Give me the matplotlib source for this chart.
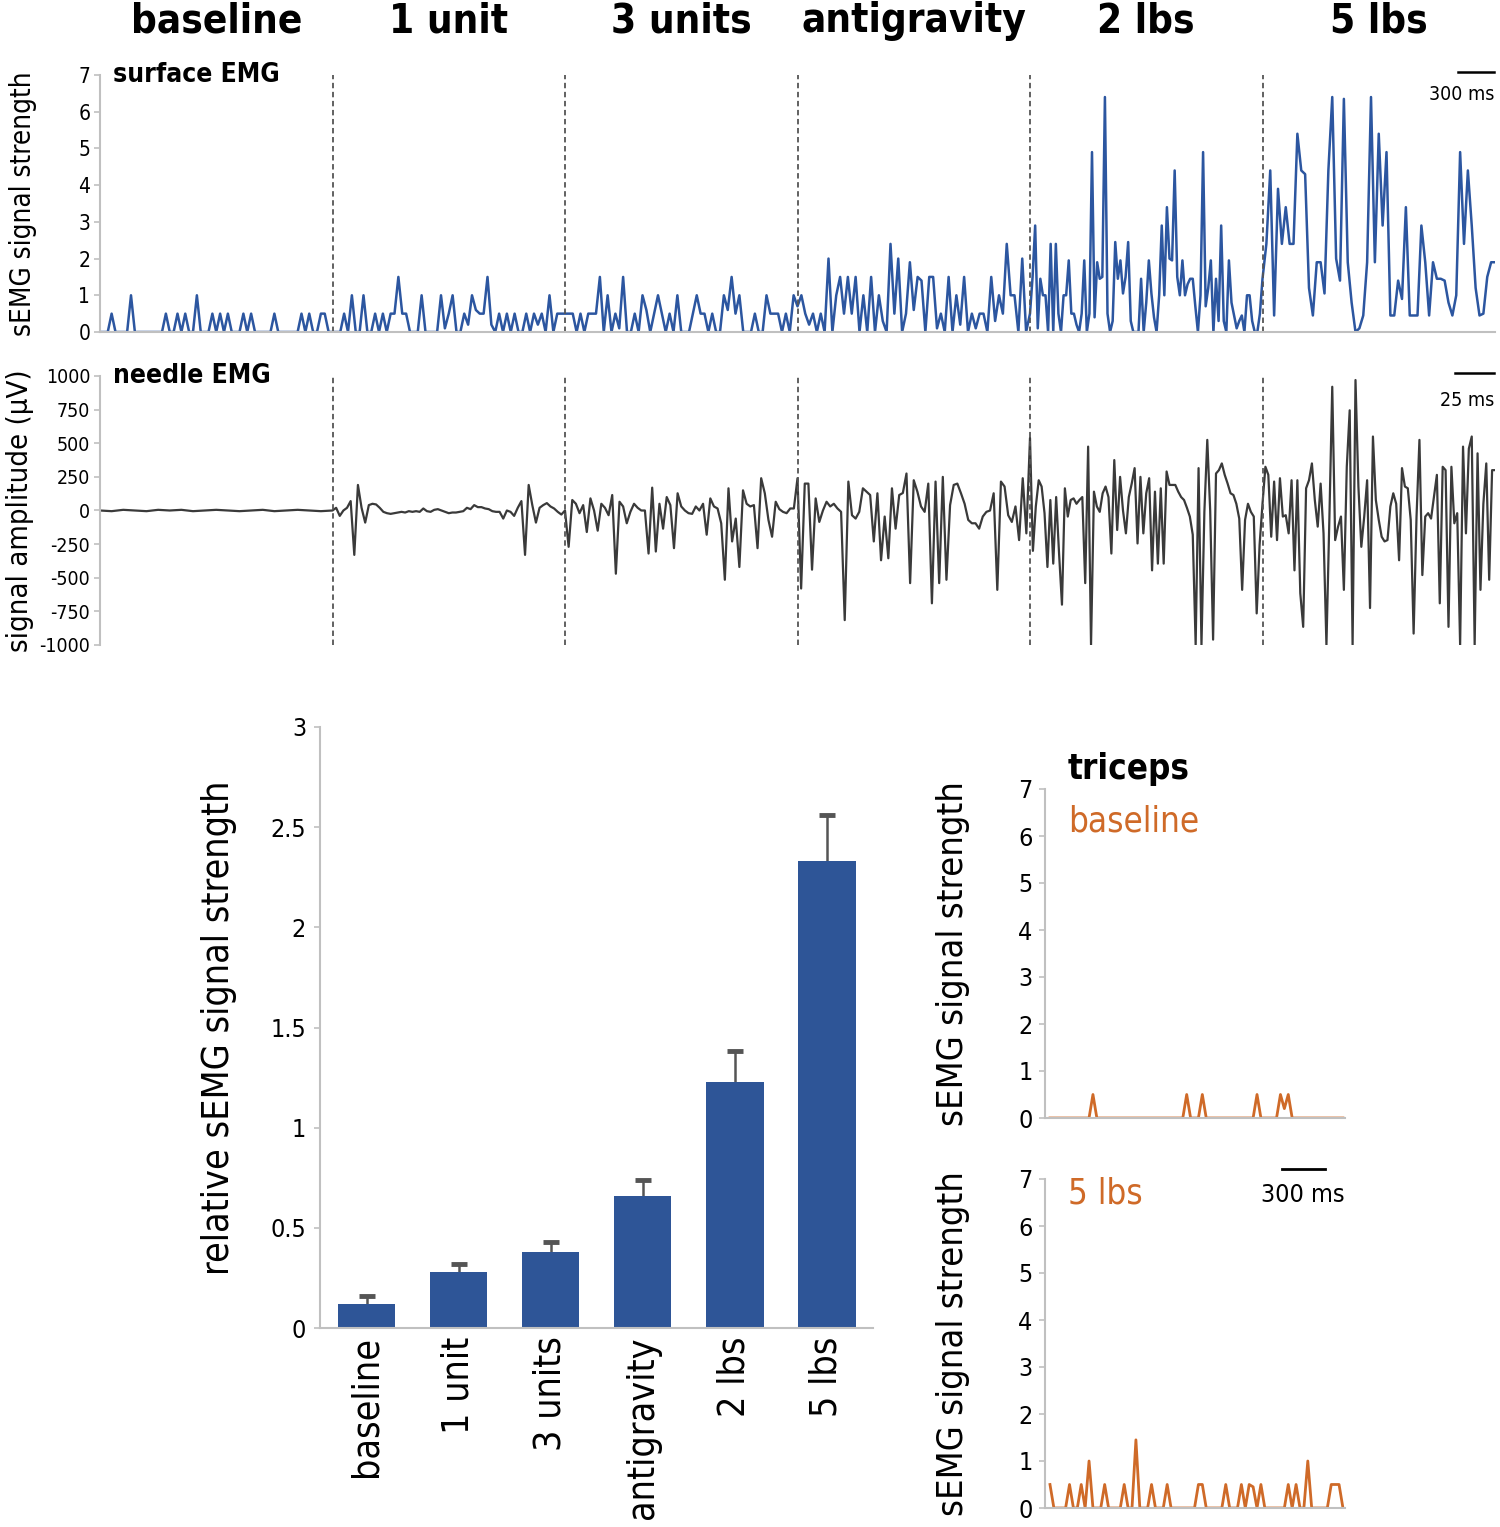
import numpy as np
import matplotlib
matplotlib.use('Agg')
import matplotlib.pyplot as plt

plt.rcParams['font.family'] = ['DejaVu Sans']
plt.rcParams['font.stretch'] = 'condensed'
plt.rcParams['axes.unicode_minus'] = False

W, H = 1500, 1527

conditions = ['baseline', '1 unit', '3 units', 'antigravity', '2 lbs', '5 lbs']

# surface EMG (biceps), one list of samples per condition
semg_baseline = [0, 0, 0, 0.5, 0, 0, 0, 0, 1.0, 0, 0, 0, 0, 0, 0, 0, 0, 0.5, 0, 0,
                 0.5, 0, 0.5, 0, 0, 1.0, 0, 0, 0, 0.5, 0, 0.5, 0, 0.5, 0, 0, 0, 0.5, 0, 0.5,
                 0, 0, 0, 0, 0, 0.5, 0, 0, 0, 0, 0, 0, 0.5, 0, 0.5, 0, 0, 0.5, 0.5, 0]
semg_1unit = [0, 0, 0, 0.5, 0, 1.0, 0, 0, 1.0, 0, 0, 0.5, 0, 0.5, 0, 0.5, 0.5, 1.5, 0.5, 0.5,
              0, 0, 0, 1.0, 0, 0, 0, 0, 1.0, 0.1, 0.5, 1.0, 0, 0, 0.5, 0.2, 1.0, 0.6, 0.5, 0.5,
              1.5, 0.2, 0, 0.5, 0, 0.5, 0, 0.5, 0, 0, 0.5, 0, 0.5, 0.2, 0.5, 0, 1.0, 0, 0.5, 0.5]
semg_3units = [0.5, 0.5, 0.5, 0, 0.5, 0, 0.5, 0.5, 0.5, 1.5, 0, 1.0, 0, 0.5, 0.1, 1.5, 0, 0, 0.5, 0,
               1.0, 0.6, 0, 0.5, 1.0, 0.5, 0, 0.5, 0, 1.0, 0, 0, 0, 0.5, 1.0, 0.5, 0.5, 0, 0.5, 0,
               0, 1.0, 0.6, 1.5, 0.5, 1.0, 0, 0, 0, 0.5, 0, 0, 1.0, 0.5, 0.5, 0.5, 0, 0.5, 0, 1.0]
semg_antigrav = [0.7, 1.0, 0.5, 0.2, 0.5, 0, 0.5, 0, 2.0, 0, 1.0, 1.5, 0.5, 1.5, 0.5, 1.5, 0, 1.0, 0, 1.5,
                 0, 1.0, 0.3, 0, 2.4, 0.5, 2.0, 0, 0.5, 1.9, 0.6, 1.5, 1.4, 0, 1.5, 1.5, 0.1, 0.5, 0, 1.5,
                 0, 1.0, 0.2, 1.5, 0, 0.5, 0.1, 0.5, 0.5, 0, 1.5, 0.3, 1.0, 0.5, 2.4, 1.0, 1.0, 0, 2.0, 0]
semg_2lbs = [0.5, 1.5, 2.9, 0.1, 1.45, 1.0, 1.0, 0, 2.4, 0, 2.4, 0.5, 0, 1.0, 1.0, 1.95, 0.5, 0.5, 0.2, 0,
             0.5, 1.95, 0, 0.5, 4.9, 0.4, 1.9, 1.45, 1.5, 6.4, 0.5, 0, 0.3, 2.45, 1.45, 1.95, 1.05, 1.5, 2.45, 0.3,
             0, 0, 0, 1.45, 0, 0.8, 1.95, 1.05, 0.4, 0, 1.0, 2.9, 1.0, 3.4, 2.0, 1.95, 4.4, 1.5, 1.0, 1.95,
             1.0, 1.3, 1.45, 1.45, 0.7, 0, 1.0, 4.9, 0.7, 1.2, 1.95, 0, 1.45, 0.3, 2.9, 0.3, 0, 1.95, 0.8, 0.45,
             0.1, 0.3, 0.45, 0, 1.0, 1.0, 0.3, 0, 0, 0.5]
semg_5lbs = [1.45, 2.4, 4.4, 0.45, 3.9, 2.4, 3.4, 2.4, 2.4, 5.4, 4.4, 4.3, 1.2, 0.45, 1.9, 1.9, 1.05, 4.4, 6.4, 2.0,
             1.4, 6.35, 1.9, 0.8, 0, 0.1, 0.45, 1.9, 6.4, 1.9, 5.4, 2.9, 4.9, 0.45, 0.45, 1.4, 0.9, 3.4, 0.45, 0.45,
             0.45, 2.9, 1.9, 0.45, 1.9, 1.45, 1.45, 1.4, 0.8, 0.45, 1.0, 4.9, 2.4, 4.4, 2.9, 1.2, 0.45, 0.5, 1.5, 1.9]

# needle EMG (uV)
needle_baseline = [0, -5, 5, 0, -5, 5, 0, 5, -5, 0, 5, 0, -5, 0, 5, -5, 0, 5, 0, -5]
needle_1unit = [0, 20, -40, 0, 20, 70, -330, 190, 20, -90, 40, 50, 45, 20, -10, -20, -25, -20, -15, -10,
                -15, -5, -10, -5, -10, 15, -5, -10, 5, 10, 0, -10, -20, -15, -15, -10, -5, 20, 10, 40,
                25, 25, 15, 10, -5, -10, -10, -60, 0, -10, -40, 20, 70, -330, 190, 40, -90, 20, 40, 55,
                30, 15, -10, -30]
needle_3units = [0, -270, 78, 50, -20, 40, -160, 90, 0, -150, 50, 20, -35, 115, -470, 65, 30, -95, -10, 50,
                 20, 0, 0, -320, 170, -305, 50, -135, 100, 40, -280, 128, 30, 0, -20, -25, 30, 0, 50, -180,
                 90, 30, 15, -95, -515, 165, -230, -60, -420, 150, 50, 30, 40, -280, 240, 128, -70, -195, 65, 10,
                 -10, -20, 15, 15]
needle_antigrav = [240, -580, 200, 200, -440, 90, -85, 0, 65, 30, 50, 15, -10, -815, 215, -35, -60, -10, 165, 140,
                   115, -230, 128, -370, -45, -355, 165, -135, 115, 130, 275, -540, 225, 140, 30, -10, 200, -690, 215, -540,
                   250, -515, 40, 190, 200, 128, 50, -70, -95, -95, -135, -45, -10, 0, 128, -590, 215, 178, -35, -85,
                   30, -220, 240, -170]
needle_2lbs = [540, -300, 30, 225, 178, -20, -420, 78, -395, 100, -320, -700, 165, -45, 78, 90, 50, 78, 100, -540,
               475, -1000, 140, 30, -10, 128, 178, 100, -320, 375, -145, 250, 0, -170, 100, 200, 315, -245, 250, -170,
               128, 240, -445, 140, -395, 165, -395, 290, 190, 190, 190, 140, 100, 78, 20, -45, -180, -1000, 315, -1000,
               -10, 525, 0, -960, 275, 300, 350, 265, 200, 128, 115, 50, -60, -590, -70, 50, -10, -45, -765, -255]
needle_5lbs = [50, 325, 265, -195, 215, -220, 240, -45, -35, -170, 225, -445, 225, -615, -865, 165, 225, 350, 78, -120,
               200, -170, -1000, -70, 920, -220, -120, -45, -590, 325, 745, -1000, 970, 178, -270, -45, 225, -725, 550, 78,
               -70, -195, -230, -220, 30, 128, 50, -370, 315, 178, 165, -70, -915, -45, 525, -480, -45, -20, -60, 100,
               265, -690, 325, 300, -865, 325, -95, -20, -1000, 475, -170, 460, 550, -1000, 425, -590, 50, 350, -515, 300]

# bar chart
bar_means = [0.12, 0.28, 0.38, 0.66, 1.23, 2.33]
bar_err = [0.04, 0.04, 0.05, 0.08, 0.155, 0.23]

# triceps traces
triceps_baseline = [0, 0, 0, 0, 0, 0, 0, 0, 0, 0, 0, 0.5, 0, 0, 0, 0, 0, 0, 0, 0,
                    0, 0, 0, 0, 0, 0, 0, 0, 0, 0, 0, 0, 0, 0, 0, 0.5, 0, 0, 0, 0.5,
                    0, 0, 0, 0, 0, 0, 0, 0, 0, 0, 0, 0, 0, 0.5, 0, 0, 0, 0, 0, 0.5,
                    0.2, 0.5, 0, 0, 0, 0, 0, 0, 0, 0, 0, 0, 0, 0, 0, 0]
triceps_5lbs = [0.5, 0, 0, 0, 0, 0.5, 0, 0, 0.5, 0, 1.0, 0, 0, 0, 0.5, 0, 0, 0, 0, 0.5,
                0, 0, 1.45, 0, 0, 0, 0.5, 0, 0, 0, 0.5, 0, 0, 0, 0, 0, 0, 0, 0.5, 0.5,
                0, 0, 0, 0, 0, 0.5, 0, 0, 0, 0.5, 0, 0.5, 0.45, 0, 0.5, 0, 0, 0, 0, 0,
                0, 0.5, 0, 0.5, 0, 0, 1.0, 0, 0, 0, 0, 0, 0.5, 0.5, 0.5, 0]

semg_segments = [semg_baseline, semg_1unit, semg_3units, semg_antigrav, semg_2lbs, semg_5lbs]
needle_segments = [needle_baseline, needle_1unit, needle_3units, needle_antigrav, needle_2lbs, needle_5lbs]

blue = '#2c56a0'
bar_blue = '#2e5597'
orange = '#cf6a28'
dark = '#3a3a3a'
spine_gray = '#c0c0c0'


def add_axes_px(left, top, right, bottom):
    return fig.add_axes([left / W, 1 - bottom / H, (right - left) / W, (bottom - top) / H])


def join_segments(segs):
    xs, ys = [], []
    for k, seg in enumerate(segs):
        n = len(seg)
        xs.append(k + np.arange(n) / n)
        ys.append(np.asarray(seg, dtype=float))
    xs.append([len(segs)])
    ys.append([segs[-1][-1]])
    return np.concatenate(xs), np.concatenate(ys)


def style_axis(ax, bottom=True):
    for s in ['top', 'right']:
        ax.spines[s].set_visible(False)
    ax.spines['left'].set_color(spine_gray)
    ax.spines['left'].set_linewidth(1.5)
    if bottom:
        ax.spines['bottom'].set_color(spine_gray)
        ax.spines['bottom'].set_linewidth(1.5)
    else:
        ax.spines['bottom'].set_visible(False)
    ax.tick_params(axis='y', color=spine_gray, length=4, width=1.2, pad=3)
    ax.tick_params(axis='x', length=0)


fig = plt.figure(figsize=(W / 100, H / 100), dpi=100)

# ---- surface EMG
ax_s = add_axes_px(100, 75, 1495, 332)
x, y = join_segments(semg_segments)
ax_s.plot(x, y, color=blue, lw=1.8, solid_joinstyle='round')
ax_s.set_xlim(0, 6)
ax_s.set_ylim(0, 7)
ax_s.set_yticks(range(8))
ax_s.set_xticks([])
style_axis(ax_s)
ax_s.tick_params(axis='y', labelsize=15)
for k in range(1, 6):
    ax_s.axvline(k, color='#555555', lw=1.3, ls=(0, (3, 2)))
ax_s.set_ylabel('sEMG signal strength', fontsize=20)
ax_s.yaxis.set_label_coords(-0.045, 0.5)
ax_s.text(0.009, 1.0, 'surface EMG', transform=ax_s.transAxes, fontsize=19,
          fontweight='bold', ha='left', va='center')
for k, name in enumerate(conditions):
    ax_s.text(k + 0.5, 1.21, name, transform=ax_s.get_xaxis_transform(),
              fontsize=29, fontweight='bold', ha='center', va='center')
ax_s.plot([0.9735, 0.9995], [1.01, 1.01], transform=ax_s.transAxes, color='black', lw=1.8, clip_on=False)
ax_s.text(0.9995, 0.925, '300 ms', transform=ax_s.transAxes, fontsize=14, ha='right', va='center')

# ---- needle EMG
ax_n = add_axes_px(100, 376, 1495, 645)
x, y = join_segments(needle_segments)
ax_n.plot(x, y, color=dark, lw=1.6)
ax_n.set_xlim(0, 6)
ax_n.set_ylim(-1000, 1000)
ax_n.set_yticks(np.arange(-1000, 1001, 250))
ax_n.set_xticks([])
style_axis(ax_n, bottom=False)
ax_n.tick_params(axis='y', labelsize=14)
for k in range(1, 6):
    ax_n.axvline(k, color='#555555', lw=1.3, ls=(0, (3, 2)))
ax_n.set_ylabel('signal amplitude (\u00b5V)', fontsize=21)
ax_n.yaxis.set_label_coords(-0.047, 0.5)
ax_n.text(0.009, 1.0, 'needle EMG', transform=ax_n.transAxes, fontsize=19,
          fontweight='bold', ha='left', va='center')
ax_n.plot([0.9715, 0.9995], [1.01, 1.01], transform=ax_n.transAxes, color='black', lw=1.8, clip_on=False)
ax_n.text(0.9995, 0.91, '25 ms', transform=ax_n.transAxes, fontsize=14, ha='right', va='center')

# ---- bar chart
ax_b = add_axes_px(320, 727, 873, 1328)
pos = np.arange(len(conditions))
means = np.array(bar_means)
tops = means + np.array(bar_err)
ax_b.vlines(pos, means, tops, color='#555555', lw=1.8, zorder=1)
ax_b.plot(pos, tops, ls='none', marker='_', ms=11, mew=3.5, color='#555555', zorder=1)
ax_b.bar(pos, bar_means, width=0.62, color=bar_blue, zorder=2)
ax_b.set_xlim(-0.51, 5.5)
ax_b.set_ylim(0, 3)
ax_b.set_yticks(np.arange(0, 3.01, 0.5))
ax_b.set_yticklabels(['0', '0.5', '1', '1.5', '2', '2.5', '3'])
style_axis(ax_b)
ax_b.tick_params(axis='y', labelsize=18, pad=6)
ax_b.set_xticks(pos)
ax_b.set_xticklabels(conditions, rotation=90, fontsize=27, va='top', ha='center')
ax_b.tick_params(axis='x', pad=6)
ax_b.set_ylabel('relative sEMG signal strength', fontsize=27)
ax_b.yaxis.set_label_coords(-0.15, 0.5)

# ---- triceps panels
for top, bottom, trace, label in [(789, 1118, triceps_baseline, 'baseline'),
                                  (1179, 1508, triceps_5lbs, '5 lbs')]:
    ax_t = add_axes_px(1045, top, 1345, bottom)
    tx = np.arange(len(trace)) / (len(trace) - 1)
    ax_t.plot(tx, trace, color=orange, lw=2)
    ax_t.set_xlim(-0.017, 1.007)
    ax_t.set_ylim(0, 7)
    ax_t.set_yticks(range(8))
    ax_t.set_xticks([])
    style_axis(ax_t)
    ax_t.tick_params(axis='y', labelsize=18, pad=5)
    ax_t.set_ylabel('sEMG signal strength', fontsize=26)
    ax_t.yaxis.set_label_coords(-0.25, 0.5)
    if label == 'baseline':
        ax_t.text(0.077, 1.06, 'triceps', transform=ax_t.transAxes, fontsize=25,
                  fontweight='bold', ha='left', va='center')
        ax_t.text(0.077, 0.9, label, transform=ax_t.transAxes, fontsize=25,
                  color=orange, ha='left', va='center')
    else:
        ax_t.text(0.077, 0.955, label, transform=ax_t.transAxes, fontsize=25,
                  color=orange, ha='left', va='center')
        ax_t.plot([0.79, 0.933], [1.03, 1.03], transform=ax_t.transAxes, color='black',
                  lw=2, clip_on=False)
        ax_t.text(0.86, 0.95, '300 ms', transform=ax_t.transAxes, fontsize=18,
                  ha='center', va='center')

fig.savefig('out.png', dpi=100)
